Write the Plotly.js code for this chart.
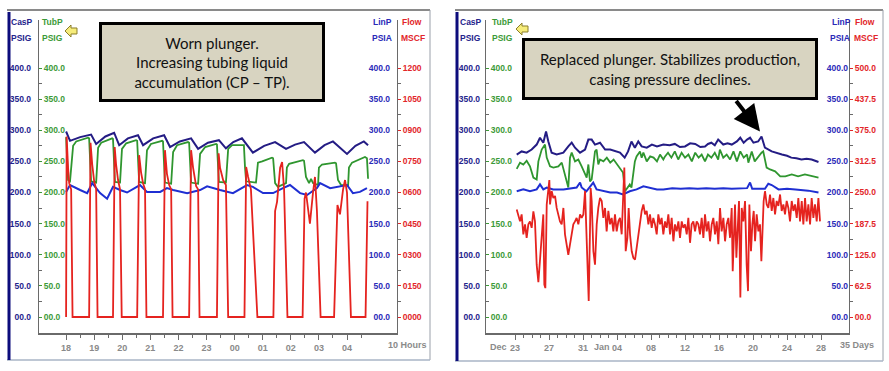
<!DOCTYPE html>
<html><head><meta charset="utf-8">
<script src="https://cdn.plot.ly/plotly-3.0.1.min.js"></script>
<style>html,body{margin:0;padding:0;background:#fff}#chart{width:889px;height:371px}</style>
</head><body><div id="chart"></div>
<script>
// ---------- Panel 1 (hours since 18:00) ----------
const p1HourTicks = [0,1,2,3,4,5,6,7,8,9,10];
const p1HourLabels = ["18","19","20","21","22","23","00","01","02","03","04"];
const p1HalfTicks = [0.5,1.5,2.5,3.5,4.5,5.5,6.5,7.5,8.5,9.5,10.5];

const p1CasPHour = [0,0.14,0.5,0.89,1.07,1.4,1.71,1.89,2.2,2.56,2.74,3.1,3.49,3.70,4.05,4.45,4.70,5.05,5.44,5.69,5.95,6.26,6.65,7.05,7.44,7.83,8.15,8.47,8.86,9.2,9.50,10.0,10.3,10.6,10.75];
const p1CasP     = [298,283,289,293,278,290,296,276,287,292,276,287,292,273,282,287,270,280,284,271,281,287,264,275,281,270,277,281,264,276,282,262,275,282,276];

const p1TubPHour = [0,0.04,0.07,0.14,0.21,0.25,0.36,0.78,
  0.82,0.85,0.89,1.07,1.10,1.14,1.25,1.64,
  1.67,1.71,1.74,1.92,1.96,1.99,2.14,2.49,
  2.53,2.56,2.60,2.81,2.85,2.88,3.02,3.42,
  3.45,3.49,3.52,3.74,3.77,3.81,3.95,4.34,
  4.38,4.41,4.45,4.70,4.73,4.77,4.95,5.34,
  5.37,5.41,5.44,5.69,5.73,5.77,5.91,6.30,
  6.33,6.37,6.41,6.76,6.80,6.83,6.98,7.33,
  7.37,7.44,7.54,7.69,7.83,7.86,7.94,8.43,
  8.47,8.54,8.65,8.72,8.79,8.97,9.00,9.11,9.57,
  9.61,9.68,9.79,10.04,10.07,10.18,10.64,10.71,10.75];
const p1TubP = [289,260,220,218,250,275,282,288,
  287,240,218,216,250,272,280,287,
  286,240,217,216,250,270,279,284,
  283,240,217,215,250,268,278,283,
  282,240,216,214,245,265,276,281,
  280,240,216,214,245,262,273,278,
  277,240,217,216,250,270,276,277,
  276,240,218,216,240,248,250,256,
  255,215,209,212,215,240,246,252,
  251,225,215,222,215,212,240,245,248,
  247,220,212,212,240,248,257,255,222];

const p1LinPHour = [0,0.14,0.50,0.75,0.93,1.21,1.46,1.67,1.92,2.17,2.63,2.88,3.35,3.59,3.81,4.31,4.77,5.02,5.48,5.94,6.44,6.65,7.01,7.37,7.72,7.97,8.33,8.58,8.93,9.04,9.40,10.0,10.21,10.46,10.71];
const p1LinP     = [201,212,204,199,215,199,190,209,204,200,212,201,201,207,204,199,204,210,204,199,212,209,199,199,207,212,199,196,207,215,207,212,199,201,207];

const p1FlowHour = [0.00,0.02,0.07,0.11,0.18,0.23,
  0.82,0.87,0.93,1.00,1.07,1.12,
  1.67,1.73,1.78,1.85,1.92,1.98,
  2.53,2.60,2.67,2.74,2.81,2.86,
  3.45,3.52,3.59,3.67,3.74,3.79,
  4.38,4.45,4.52,4.63,4.70,4.75,
  5.37,5.43,5.48,5.59,5.69,5.77,
  6.35,6.41,6.48,6.58,6.81,
  7.38,7.44,7.51,7.62,7.69,7.76,7.88,
  8.42,8.49,8.54,8.61,8.68,8.79,8.86,8.93,9.06,
  9.54,9.66,9.75,9.86,9.93,10.0,10.14,
  10.66,10.73];
const p1Flow = [0,870,720,645,615,0,
  0,840,735,654,615,0,
  0,819,735,660,615,0,
  0,780,696,645,615,0,
  0,804,690,636,615,0,
  0,804,720,630,615,0,
  0,789,720,660,636,0,
  0,723,675,615,0,
  0,510,555,720,747,615,0,
  0,570,600,510,450,600,675,510,0,
  0,540,495,615,660,600,0,
  0,558];

// ---------- Panel 2 (days since Dec 23) ----------
const p2DayTicks = [0,4,8,12,16,20,24,28,32,36];
const p2DayLabels = ["23","27","31","04","08","12","16","20","24","28"];
const p2MinorDays = [1,2,3,5,6,7,9,10,11,13,14,15,17,18,19,21,22,23,25,26,27,29,30,31,33,34,35];
const p2MonthNames = ["Dec","Jan"];
const p2MonthDays = [-1.9,10.2];

const p2CasPDay = [0.2,0.78,1.37,1.96,2.55,2.94,3.33,3.65,3.92,4.31,4.9,5.69,6.27,6.67,7.06,7.65,8.24,8.63,9.02,9.41,10.0,10.6,11.2,11.8,12.35,12.9,13.3,13.7,14.1,14.5,14.9,15.5,16.1,16.7,17.45,18.2,18.8,19.4,20.0,20.6,21.2,21.8,22.35,22.7,23.1,23.5,23.9,24.5,25.0,25.5,26.1,26.5,26.9,27.3,27.65,28.05,28.6,29.0,29.4,30.2,30.8,31.4,32.0,32.5,33.1,33.7,34.3,34.9,35.3,35.7];
const p2CasP    = [261,266,264,269,277,288,280,298,282,264,261,264,274,280,272,264,269,285,285,277,280,269,269,266,264,256,266,282,272,282,274,272,277,274,277,276,278,273,274,279,278,273,274,278,280,276,285,277,279,277,282,288,280,285,288,280,282,290,272,266,263,261,259,256,255,253,254,253,251,249];

const p2TubPDay = [0.2,0.59,0.98,1.37,1.76,2.16,2.55,2.75,3.14,3.53,3.73,4.12,4.51,5.1,5.5,5.88,6.27,6.47,6.67,7.06,7.45,7.84,8.24,8.43,8.63,8.82,9.02,9.2,9.41,9.6,9.8,10.0,10.4,10.8,11.2,11.6,12.0,12.35,12.7,12.94,13.3,13.5,13.7,14.1,14.3,14.7,14.9,15.1,15.5,15.9,16.3,16.7,17.06,17.45,17.65,18.0,18.4,18.8,19.2,19.6,20.0,20.4,20.8,21.2,21.6,21.96,22.35,22.7,23.1,23.5,23.9,24.1,24.5,24.9,25.3,25.7,26.1,26.5,26.9,27.3,27.45,27.85,28.2,28.6,29.0,29.2,29.6,30.0,30.6,31.2,31.8,32.55,33.3,34.1,34.9,35.7];
const p2TubP    = [238,248,245,251,242,224,221,250,269,277,256,242,240,242,248,226,208,256,264,250,253,242,229,224,245,218,221,240,266,269,245,253,250,256,248,253,245,240,232,202,208,213,208,250,258,266,256,264,250,258,256,250,261,253,258,264,256,266,253,264,256,261,250,264,256,261,250,261,256,264,253,269,256,261,253,266,250,266,256,261,248,266,250,258,264,266,240,237,234,226,226,229,226,229,226,224];

const p2LinPDay = [0.2,0.98,1.76,2.55,2.94,3.33,3.73,4.5,5.7,6.47,7.25,7.65,7.84,8.4,9.2,9.6,10.4,11.2,12.0,12.7,13.5,14.3,15.1,15.9,16.7,17.45,18.5,19.5,20.5,21.5,22.5,23.5,24.5,25.5,26.5,27.3,27.65,27.9,28.5,29.4,29.8,30.2,31.0,32.0,33.0,34.5,35.7];
const p2LinP    = [202,205,202,205,213,205,208,205,205,206,208,216,208,202,216,205,202,200,200,197,202,205,210,208,205,205,207,206,207,206,207,206,207,206,207,207,216,206,206,206,214,212,205,206,205,203,200];

const p2FlowDay = [0.2,0.39,0.59,0.78,0.98,1.18,1.37,1.57,1.76,1.96,2.16,2.35,2.55,2.75,2.94,3.14,3.33,3.45,3.57,3.73,3.92,4.04,4.12,4.31,4.51,4.71,4.90,5.10,5.29,5.49,5.69,5.88,6.08,6.27,6.47,6.67,6.86,7.06,7.25,7.45,7.65,7.84,8.04,8.24,8.35,8.51,8.67,8.82,8.90,9.02,9.22,9.41,9.61,9.80,10.0,10.2,10.39,10.59,10.78,10.98,11.18,11.37,11.57,11.76,11.96,12.16,12.35,12.55,12.75,12.86,13.02,13.22,13.37,13.53,13.73,13.92,14.12,14.31,14.51,14.71,14.90,15.10,15.30,15.49,15.69,15.88,16.08,16.27,16.47,16.67,16.86,17.06,17.25,17.45,
  17.65,17.84,18.04,18.24,18.43,18.63,18.82,19.02,19.22,19.41,19.61,19.80,20.0,20.2,20.39,20.59,20.78,20.98,21.18,21.37,21.57,21.76,21.96,22.16,22.35,22.55,22.75,22.94,23.14,23.33,23.53,23.73,23.92,24.12,24.31,24.51,24.71,24.9,25.1,25.29,25.49,25.61,25.76,25.88,26.04,26.2,26.35,26.51,26.67,26.86,27.06,27.25,27.41,27.57,27.76,27.92,28.08,28.24,28.43,28.63,28.82,28.98,29.1,29.25,29.41,29.61,29.8,30.0,30.2,30.39,30.59,30.78,30.98,31.18,31.37,31.57,31.76,31.96,32.16,32.35,32.55,32.75,32.94,33.14,33.33,33.53,33.73,33.92,34.12,34.31,34.51,34.71,34.9,35.1,35.29,35.49,35.69,35.88];
const p2Flow = [216,206,192,206,166,186,159,186,192,179,212,192,105,70,119,166,206,65,58,226,253,275,226,253,239,243,219,206,192,186,219,166,139,125,146,172,186,192,199,186,206,199,206,253,199,146,32,172,259,233,132,105,186,219,239,233,199,219,172,213,186,199,172,206,172,192,199,166,253,300,132,159,219,166,132,119,115,139,172,192,213,226,206,213,186,206,179,199,186,166,206,186,199,166,
  192,179,206,166,199,152,186,172,192,159,192,179,186,166,199,149,186,192,172,192,186,166,199,159,206,172,192,152,186,199,166,192,146,219,172,199,152,186,199,159,219,92,166,226,119,172,233,39,219,192,233,105,52,226,132,186,213,152,206,172,186,112,166,233,253,226,219,246,213,239,206,233,223,246,213,226,206,233,219,192,233,213,226,199,239,192,233,186,239,192,226,186,239,199,226,192,239,192];

const pTicks = [0,50,100,150,200,250,300,350,400];
const pMinor = [25,75,125,175,225,275,325,375];
const p1FlowTicks = [0,150,300,450,600,750,900,1050,1200];
const p1FlowMinor = [75,225,375,525,675,825,975,1125];
const p2FlowTicks = [0,62.5,125,187.5,250,312.5,375,437.5,500];
const p2FlowMinor = [31.25,93.75,156.25,218.75,281.25,343.75,406.25,468.75];

// ---------- styling ----------
const W = 889, H = 371;
const X = v => v / W, Y = v => 1 - v / H;
const C = {cas:'#241c84', tub:'#2f962f', lin:'#1f2fd2', flow:'#e5231f',
           casT:'#24248c', tubT:'#3c9a38', linT:'#2a2ab8', flowT:'#e2262a',
           axis:'#6a6a6a', tick:'#8a8a8a'};
const NF = '"Liberation Sans", Arial, sans-serif';
const lf = (c, s) => ({family: NF, size: s || 8.5, color: c, weight: 'bold'});
const PR = [-25.7, 477.1];
const yDom = [Y(333), Y(20)];
const base = {showgrid:false, zeroline:false, fixedrange:true, tickmode:'array'};

function casAxis(pos){
  return Object.assign({anchor:'free', position: pos, side:'left', domain: yDom, range: PR,
    showline:false, ticks:'', tickvals: pTicks, tickformat:'04.1f', tickfont: lf(C.casT)}, base);
}
function tubAxis(over, pos){
  return Object.assign({overlaying: over, anchor:'free', position: pos, side:'right', range: PR,
    showline:true, linecolor:C.axis, linewidth:1, ticks:'outside', ticklen:3, tickcolor:C.tubT,
    tickvals: pTicks, tickformat:'04.1f', tickfont: lf(C.tubT),
    minor:{tickmode:'array', tickvals:pMinor, ticks:'outside', ticklen:3, tickcolor:C.axis}}, base);
}
function linAxis(over, pos){
  return Object.assign({overlaying: over, anchor:'free', position: pos, side:'left', range: PR,
    showline:false, ticks:'', tickvals: pTicks, tickformat:'04.1f', tickfont: lf(C.linT)}, base);
}
function flowAxis(over, xa, k, vals, minor, fmt){
  return Object.assign({overlaying: over, anchor: xa, side:'right', range: [PR[0]*k, PR[1]*k], showline:true,
    linecolor:C.axis, linewidth:1, ticks:'outside', ticklen:3, tickcolor:C.flowT,
    tickvals: vals, tickformat: fmt, tickfont: lf(C.flowT),
    minor:{tickmode:'array', tickvals:minor, ticks:'outside', ticklen:3, tickcolor:C.axis}}, base);
}
function xAxis(dom, range, anchor, vals, text, minor){
  return Object.assign({domain: dom, range: range, anchor: anchor, showline:true, linecolor:C.axis, linewidth:2,
    ticks:'outside', ticklen:5, tickcolor:C.axis, tickvals: vals, ticktext: text,
    tickfont: lf(C.tick, 9), minor:{tickmode:'array', tickvals:minor, ticks:'outside', ticklen:3, tickcolor:C.axis}}, base);
}

const layout = {
  width: W, height: H, margin:{l:0,r:0,t:0,b:0}, paper_bgcolor:'#fff', plot_bgcolor:'rgba(0,0,0,0)',
  showlegend:false, hovermode:false,
  xaxis: xAxis([X(38), X(397)], [-1.0, 11.78], 'y', p1HourTicks, p1HourLabels, p1HalfTicks),
  xaxis2: xAxis([X(485), X(849)], [-3.53, 39.29], 'y5', p2DayTicks, p2DayLabels, p2MinorDays),
  yaxis: casAxis(X(31)),
  yaxis2: tubAxis('y', X(38)),
  yaxis3: linAxis('y', X(390)),
  yaxis4: flowAxis('y', 'x', 3, p1FlowTicks, p1FlowMinor, '04d'),
  yaxis5: casAxis(X(480)),
  yaxis6: tubAxis('y5', X(485)),
  yaxis7: linAxis('y5', X(848)),
  yaxis8: flowAxis('y5', 'x2', 1.25, p2FlowTicks, p2FlowMinor, '04.1f'),
  shapes: [], annotations: []
};

function frame(x0, x1, y0, y1){
  layout.shapes.push(
    {type:'line', xref:'paper', yref:'paper', x0:X(x0), x1:X(x1), y0:Y(y0), y1:Y(y0), line:{color:'#8a8a8a', width:2}},
    {type:'line', xref:'paper', yref:'paper', x0:X(x1), x1:X(x1), y0:Y(y0), y1:Y(y1), line:{color:'#9aa0aa', width:1}},
    {type:'line', xref:'paper', yref:'paper', x0:X(x0), x1:X(x1), y0:Y(y1), y1:Y(y1), line:{color:'#a8b4c6', width:1.5}},
    {type:'line', xref:'paper', yref:'paper', x0:X(x0+2), x1:X(x0+2), y0:Y(y0+2), y1:Y(y1), line:{color:'#0c0c7c', width:3}}
  );
}
frame(7, 430, 10, 360);
frame(455, 883, 10, 361);

function icon(x, y){
  const pts = [[x,y],[x+6,y-6],[x+6,y-3],[x+12,y-3],[x+12,y+3],[x+6,y+3],[x+6,y+6]];
  const path = 'M' + pts.map(p => X(p[0]).toFixed(5) + ',' + Y(p[1]).toFixed(5)).join(' L') + ' Z';
  layout.shapes.push({type:'path', xref:'paper', yref:'paper', path: path, fillcolor:'#f6ec7a', line:{color:'#8a7d2a', width:1}});
}
icon(65, 31);
icon(516, 29);

function t(txt, x, y, col, anchor, size){
  layout.annotations.push({xref:'paper', yref:'paper', x:X(x), y:Y(y), text:txt, showarrow:false,
    xanchor: anchor || 'left', yanchor:'middle', font: lf(col, size || 8.5)});
}
t('CasP', 9, 22, C.casT); t('PSIG', 9, 38, C.casT);
t('TubP', 40, 22, C.tubT); t('PSIG', 40, 38, C.tubT);
t('LinP', 371, 22, C.linT); t('PSIA', 370, 38, C.linT);
t('Flow', 400, 22, C.flowT); t('MSCF', 399, 38, C.flowT);
t('CasP', 458, 22, C.casT); t('PSIG', 458, 38, C.casT);
t('TubP', 490, 22, C.tubT); t('PSIG', 490, 38, C.tubT);
t('LinP', 830, 22, C.linT); t('PSIA', 828, 38, C.linT);
t('Flow', 853, 22, C.flowT); t('MSCF', 852, 38, C.flowT);
t('10 Hours', 386, 345, C.tick, 'left', 9);
t('35 Days', 838, 345, C.tick, 'left', 9);
p2MonthNames.forEach((m, i) => layout.annotations.push({xref:'x2', yref:'paper', x:p2MonthDays[i], y:Y(347),
  text:m, showarrow:false, xanchor:'center', yanchor:'middle', font: lf(C.tick, 9)}));

layout.annotations.push({xref:'x2', yref:'y5', x:28.82, y:298, ax:-25, ay:-32, text:'', showarrow:true,
  arrowhead:2, arrowsize:1.3, arrowwidth:4, arrowcolor:'#000', standoff:0});

const boxFont = {family:'Lato, "Open Sans", sans-serif', size:15, color:'#111'};
layout.annotations.push({xref:'paper', yref:'paper', x:X(212), y:Y(62), xanchor:'center', yanchor:'middle',
  text:'Worn plunger.<br>Increasing tubing liquid<br>accumulation (CP – TP).', showarrow:false,
  width:220, height:74, bgcolor:'#d8d4c1', bordercolor:'#000', borderwidth:3, borderpad:0, align:'center', valign:'middle', font: boxFont});
layout.annotations.push({xref:'paper', yref:'paper', x:X(670), y:Y(69), xanchor:'center', yanchor:'middle',
  text:'Replaced plunger. Stabilizes production,<br>casing pressure declines.', showarrow:false,
  width:290, height:56, bgcolor:'#d8d4c1', bordercolor:'#000', borderwidth:3, borderpad:0, align:'center', valign:'middle', font: boxFont});

const ln = (x, y, xa, ya, col, w) => ({x:x, y:y, xaxis:xa, yaxis:ya, type:'scatter', mode:'lines',
  line:{color:col, width:w||1.8}, hoverinfo:'skip'});
const data = [
  ln(p1CasPHour, p1CasP, 'x', 'y', C.cas, 2),
  ln(p1TubPHour, p1TubP, 'x', 'y2', C.tub),
  ln(p1LinPHour, p1LinP, 'x', 'y3', C.lin, 2),
  ln(p1FlowHour, p1Flow, 'x', 'y4', C.flow),
  ln(p2CasPDay, p2CasP, 'x2', 'y5', C.cas, 2),
  ln(p2TubPDay, p2TubP, 'x2', 'y6', C.tub),
  ln(p2LinPDay, p2LinP, 'x2', 'y7', C.lin, 2),
  ln(p2FlowDay, p2Flow, 'x2', 'y8', C.flow)
];
Plotly.newPlot('chart', data, layout, {staticPlot:true, displayModeBar:false});
</script></body></html>
